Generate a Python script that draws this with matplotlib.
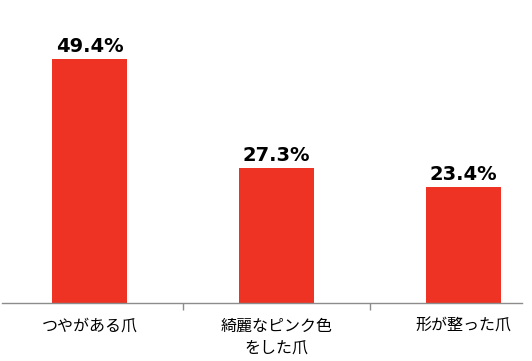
import matplotlib
matplotlib.use("Agg")
import matplotlib.pyplot as plt

# === DATA ===
categories = ["つやがある爪", "綺麗なピンク色\nをした爪", "形が整った爪"]
values = [49.4, 27.3, 23.4]
value_labels = ["49.4%", "27.3%", "23.4%"]

plt.rcParams["font.family"] = ["Noto Sans CJK JP", "DejaVu Sans"]

W, H = 532, 361
fig = plt.figure(figsize=(W / 100, H / 100), dpi=100)
# axes placed in pixel coordinates: left 2, right 522, bottom at y=302.7, top at 0
ax = fig.add_axes([2 / W, (H - 302.7) / H, 520 / W, 302.7 / H])

x = list(range(len(categories)))
ax.bar(x, values, width=0.4, color="#EE3224")

for xi, v, lab in zip(x, values, value_labels):
    ax.text(xi, v + 0.6, lab, ha="center", va="bottom", fontsize=14,
            fontweight="bold", family="DejaVu Sans", color="black")

ax.set_xlim(-0.468, 2.313)
ax.set_ylim(0, 61.4)

for s in ["top", "right", "left"]:
    ax.spines[s].set_visible(False)
ax.spines["bottom"].set_color("#8c8c8c")
ax.spines["bottom"].set_linewidth(1.0)

ax.set_yticks([])
ax.set_xticks(x)
ax.set_xticklabels(categories, fontsize=11.5, linespacing=1.35)
ax.tick_params(axis="x", which="major", length=0, pad=11)
ax.set_xticks([0.5, 1.5], minor=True)
ax.tick_params(axis="x", which="minor", length=5, color="#8c8c8c", width=1.0)

fig.savefig("out.png", dpi=100)
